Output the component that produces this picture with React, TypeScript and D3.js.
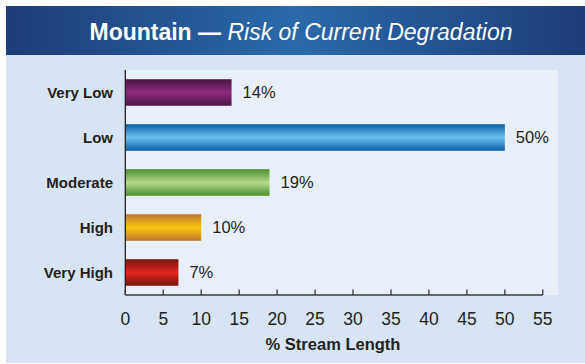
import React from "react";
import * as d3 from "d3";

const categories = ["Very Low", "Low", "Moderate", "High", "Very High"];
const values = [14, 50, 19, 10, 7];
const xTicks = [0, 5, 10, 15, 20, 25, 30, 35, 40, 45, 50, 55];
// [edge, middle] colours of each bar's vertical sheen
const barShades: [string, string][] = [
  ["#4a1640", "#8e2a80"],
  ["#0b5fa5", "#6cc0ee"],
  ["#4e8d2f", "#b6d98c"],
  ["#c0762c", "#f9c814"],
  ["#761510", "#e2271d"],
];

const W = 585;
const H = 364;
const FONT = "'Liberation Sans', Arial, sans-serif";

export default function App() {
  const plot = { left: 125, right: 558, top: 70, bottom: 295 };
  const x = d3.scaleLinear().domain([0, 55]).range([125.3, 542.8]);
  const y = d3
    .scaleBand<string>()
    .domain(categories)
    .range([plot.top, plot.bottom])
    .paddingInner(0.41)
    .paddingOuter(0.205);

  return (
    <svg
      width={W}
      height={H}
      style={{ position: "absolute", left: 0, top: 0 }}
      fontFamily={FONT}
    >
      <defs>
        <linearGradient id="hdr" x1="0" x2="1" y1="0" y2="0">
          <stop offset="0" stopColor="#1c3d78" />
          <stop offset="0.5" stopColor="#2a6aa9" />
          <stop offset="1" stopColor="#1c3d78" />
        </linearGradient>
        {barShades.map(([edge, mid], i) => (
          <linearGradient key={i} id={`bar${i}`} x1="0" x2="0" y1="0" y2="1">
            <stop offset="0" stopColor={edge} />
            <stop offset="0.5" stopColor={mid} />
            <stop offset="1" stopColor={edge} />
          </linearGradient>
        ))}
      </defs>

      {/* panel background */}
      <rect x={6} y={55} width={W - 6} height={H - 1 - 55} fill="#d8e3f3" />
      <rect x={6} y={6} width={W - 6} height={49} fill="url(#hdr)" />
      <text
        x={301}
        y={40}
        textAnchor="middle"
        fill="#ffffff"
        fontSize={23}
      >
        <tspan fontWeight="bold">Mountain — </tspan>
        <tspan fontStyle="italic">Risk of Current Degradation</tspan>
      </text>

      {/* plot area */}
      <rect
        x={plot.left}
        y={plot.top}
        width={plot.right - plot.left}
        height={plot.bottom - plot.top}
        fill="#e8eff8"
      />

      {/* bars */}
      {categories.map((c, i) => (
        <g key={c}>
          <rect
            x={x(0)}
            y={y(c)}
            width={x(values[i]) - x(0)}
            height={y.bandwidth()}
            fill={`url(#bar${i})`}
          />
          <text
            x={x(values[i]) + 11}
            y={(y(c) as number) + y.bandwidth() / 2}
            dy="0.35em"
            fontSize={16.5}
            fill="#231f20"
          >
            {values[i]}%
          </text>
          <text
            x={113}
            y={(y(c) as number) + y.bandwidth() / 2}
            dy="0.35em"
            textAnchor="end"
            fontSize={15}
            fontWeight="bold"
            fill="#231f20"
          >
            {c}
          </text>
        </g>
      ))}

      {/* axes */}
      <line
        x1={x(0)}
        x2={x(0)}
        y1={plot.top}
        y2={plot.bottom}
        stroke="#231f20"
        strokeWidth={1.3}
      />
      <line
        x1={x(0)}
        x2={x(55)}
        y1={plot.bottom}
        y2={plot.bottom}
        stroke="#3a3a3a"
        strokeWidth={1.3}
      />
      {xTicks.map((t) => (
        <g key={t}>
          <line
            x1={x(t)}
            x2={x(t)}
            y1={plot.bottom}
            y2={plot.bottom - 5.5}
            stroke="#3a3a3a"
            strokeWidth={1.3}
          />
          <text
            x={x(t)}
            y={325}
            textAnchor="middle"
            fontSize={17.5}
            fill="#231f20"
          >
            {t}
          </text>
        </g>
      ))}
      <text
        x={333}
        y={350}
        textAnchor="middle"
        fontSize={16.5}
        fontWeight="bold"
        fill="#231f20"
      >
        % Stream Length
      </text>
    </svg>
  );
}
